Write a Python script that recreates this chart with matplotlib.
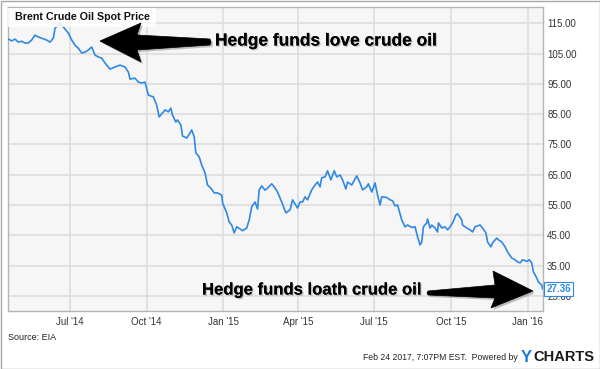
import matplotlib.pyplot as plt
import matplotlib.patheffects as pe
from matplotlib.patches import Polygon, Rectangle
import pandas as pd

# Brent spot price
dates = ['2014-04-18', '2014-04-22', '2014-04-26', '2014-04-30', '2014-05-04', '2014-05-08',
         '2014-05-12', '2014-05-16', '2014-05-20', '2014-05-24', '2014-05-28', '2014-06-03',
         '2014-06-07', '2014-06-11', '2014-06-13', '2014-06-19', '2014-06-23', '2014-06-29',
         '2014-07-03', '2014-07-07', '2014-07-11', '2014-07-15', '2014-07-19', '2014-07-23',
         '2014-07-27', '2014-07-31', '2014-08-04', '2014-08-08', '2014-08-12', '2014-08-18',
         '2014-08-24', '2014-08-30', '2014-09-05', '2014-09-09', '2014-09-11', '2014-09-17',
         '2014-09-21', '2014-09-25', '2014-09-29', '2014-10-03', '2014-10-09', '2014-10-13',
         '2014-10-16', '2014-10-19', '2014-10-23', '2014-10-27', '2014-10-30', '2014-11-01',
         '2014-11-05', '2014-11-07', '2014-11-11', '2014-11-13', '2014-11-18', '2014-11-22',
         '2014-11-24', '2014-11-27', '2014-11-29', '2014-12-03', '2014-12-06', '2014-12-10',
         '2014-12-13', '2014-12-17', '2014-12-21', '2014-12-25', '2014-12-30', '2014-12-31',
         '2015-01-05', '2015-01-08', '2015-01-11', '2015-01-14', '2015-01-17', '2015-01-21',
         '2015-01-24', '2015-01-29', '2015-02-01', '2015-02-04', '2015-02-08', '2015-02-11',
         '2015-02-13', '2015-02-16', '2015-02-20', '2015-02-23', '2015-02-28', '2015-03-04',
         '2015-03-07', '2015-03-12', '2015-03-17', '2015-03-22', '2015-03-25', '2015-03-31',
         '2015-04-03', '2015-04-06', '2015-04-09', '2015-04-12', '2015-04-17', '2015-04-21',
         '2015-04-24', '2015-04-27', '2015-04-29', '2015-05-03', '2015-05-06', '2015-05-10',
         '2015-05-14', '2015-05-17', '2015-05-21', '2015-05-24', '2015-05-28', '2015-05-30',
         '2015-06-04', '2015-06-10', '2015-06-14', '2015-06-17', '2015-06-22', '2015-06-24',
         '2015-06-28', '2015-07-02', '2015-07-05', '2015-07-08', '2015-07-10', '2015-07-16',
         '2015-07-20', '2015-07-23', '2015-07-26', '2015-07-29', '2015-08-03', '2015-08-07',
         '2015-08-10', '2015-08-15', '2015-08-19', '2015-08-22', '2015-08-25', '2015-08-27',
         '2015-08-29', '2015-09-02', '2015-09-03', '2015-09-06', '2015-09-08', '2015-09-12',
         '2015-09-15', '2015-09-16', '2015-09-20', '2015-09-24', '2015-09-27', '2015-09-30',
         '2015-10-03', '2015-10-07', '2015-10-09', '2015-10-14', '2015-10-15', '2015-10-20',
         '2015-10-24', '2015-10-27', '2015-10-30', '2015-11-05', '2015-11-08', '2015-11-12',
         '2015-11-14', '2015-11-18', '2015-11-20', '2015-11-25', '2015-11-27', '2015-12-01',
         '2015-12-05', '2015-12-08', '2015-12-13', '2015-12-17', '2015-12-20', '2015-12-23',
         '2015-12-26', '2015-12-31', '2016-01-03', '2016-01-06', '2016-01-08', '2016-01-12',
         '2016-01-14', '2016-01-18', '2016-01-19']
prices = [109.8, 109.2, 109.8, 108.8, 109.1, 108.5,
          108.5, 109.5, 111.1, 110.5, 110.1, 109.5,
          108.8, 110.1, 113.4, 115.1, 113.8, 111.8,
          109.5, 107.8, 106.8, 105.2, 105.5, 106.2,
          107.2, 104.5, 103.9, 103.5, 101.9, 99.9,
          100.6, 101.2, 100.6, 98.9, 96.6, 96.9,
          95.6, 95.3, 95.6, 91.3, 90.7, 88.0,
          84.1, 85.1, 86.4, 85.8, 87.0, 84.7,
          82.4, 83.1, 81.4, 77.8, 77.1, 78.8,
          79.8, 77.5, 72.2, 70.9, 68.2, 65.6,
          61.6, 60.6, 59.0, 59.0, 58.3, 55.7,
          52.4, 49.4, 48.4, 45.8, 47.8, 47.1,
          46.5, 47.4, 50.1, 54.4, 56.0, 53.7,
          60.0, 61.3, 59.9, 60.6, 62.0, 60.6,
          59.3, 56.0, 52.4, 53.4, 56.7, 54.0,
          56.0, 56.0, 57.7, 56.7, 60.0, 61.6,
          62.6, 61.0, 64.0, 64.3, 66.3, 63.3,
          66.3, 64.3, 64.9, 63.3, 60.3, 62.6,
          61.6, 64.6, 62.3, 60.0, 61.0, 62.0,
          59.3, 62.3, 58.3, 55.0, 57.7, 57.5,
          56.7, 56.4, 54.7, 55.0, 50.1, 47.8,
          48.4, 47.6, 47.8, 44.5, 41.8, 42.8,
          47.8, 49.1, 50.4, 47.4, 48.4, 47.4,
          46.1, 49.1, 47.4, 47.8, 46.8, 47.8,
          49.1, 51.7, 52.1, 50.1, 48.4, 47.4,
          46.8, 46.1, 47.8, 48.4, 47.4, 45.8,
          42.8, 41.2, 42.5, 44.1, 43.5, 42.8,
          41.2, 39.5, 37.5, 36.9, 36.2, 35.9,
          36.9, 36.4, 36.9, 35.9, 32.9, 30.9,
          29.6, 28.6, 27.36]

y_ticks = [25, 35, 45, 55, 65, 75, 85, 95, 105, 115]
x_ticks = ['2014-07-01', '2014-10-01', '2015-01-01', '2015-04-01',
           '2015-07-01', '2015-10-01', '2016-01-01']
x_labels = ["Jul '14", "Oct '14", "Jan '15", "Apr '15", "Jul '15", "Oct '15", "Jan '16"]

blue = '#2f88e3'
W, H = 600, 369

plt.rcParams['font.family'] = ['Liberation Sans', 'DejaVu Sans']

fig = plt.figure(figsize=(W / 100, H / 100), dpi=100)


def px(x, y):
    # pixel position (from top-left) -> figure fraction
    return (x / W, 1 - y / H)


ax = fig.add_axes([7.5 / W, 58 / H, 535.5 / W, 304 / H])
ax.set_facecolor('#f6f6f6')
ax.plot(pd.to_datetime(dates), prices, color=blue, lw=1.2, zorder=3)

ax.set_ylim(20, 120.4)
ax.set_xlim(pd.Timestamp('2014-04-17'), pd.Timestamp('2016-01-19 12:00'))
ax.set_yticks(y_ticks)
ax.set_yticklabels(['%.2f' % v for v in y_ticks])
ax.set_xticks(pd.to_datetime(x_ticks))
ax.set_xticklabels(x_labels)
ax.yaxis.tick_right()
ax.tick_params(axis='y', length=0, pad=3, labelsize=7, labelcolor='#333333')
ax.tick_params(axis='x', length=0, pad=4, labelsize=7, labelcolor='#333333')
ax.grid(True, color='#dddddd', lw=1.2)
ax.set_axisbelow(True)
for s in ax.spines.values():
    s.set_color('#b5b5b5')
    s.set_linewidth(1)

# last value tag (sits over the top of the 25.00 label, as in the original)
ax.text(1.006, prices[-1], '%.2f' % prices[-1], transform=ax.get_yaxis_transform(),
        color=blue, fontsize=7, fontweight='bold', va='center', ha='left', zorder=5,
        bbox=dict(boxstyle='square,pad=0.2', fc='white', ec=blue, lw=0.8))

# title box
fig.add_artist(Rectangle(px(8, 27), 148 / W, 19 / H, transform=fig.transFigure,
                         fc='white', ec='none', alpha=0.85))
fig.text(*px(15, 17.5), 'Brent Crude Oil Spot Price', fontsize=7.7, fontweight='bold',
         va='center', ha='left', color='#111111')

# arrows
shadow = [pe.withSimplePatchShadow(offset=(1.5, -1.5), shadow_rgbFace='#888888', alpha=0.5)]
top_arrow = [(100, 41), (141, 23), (137, 35), (210, 39), (211, 42), (210, 45),
             (137, 50), (141, 62)]
bot_arrow = [(533, 291), (491, 308), (495, 298), (428, 295), (427, 293), (428, 291),
             (495, 285), (493, 271)]
for pts in (top_arrow, bot_arrow):
    fig.add_artist(Polygon([px(x, y) for x, y in pts], closed=True,
                           transform=fig.transFigure, fc='black', ec='black', lw=0.5,
                           path_effects=shadow))

text_shadow = [pe.withSimplePatchShadow(offset=(1, -1), shadow_rgbFace='#999999', alpha=0.5),
               pe.Normal()]
fig.text(*px(215, 41), 'Hedge funds love crude oil', fontsize=12.5, fontweight='bold',
         va='center', ha='left', path_effects=text_shadow)
fig.text(*px(202, 290), 'Hedge funds loath crude oil', fontsize=12, fontweight='bold',
         va='center', ha='left', path_effects=text_shadow)

# footer
fig.text(*px(8, 337), 'Source: EIA', fontsize=6.5, va='center', ha='left', color='#222222')
fig.text(*px(518, 358), 'Feb 24 2017, 7:07PM EST.  Powered by', fontsize=6.2,
         va='center', ha='right', color='#222222')
fig.text(*px(521, 357), 'Y', fontsize=12, fontweight='bold', va='center', ha='left',
         color='#1b7bd6')
fig.text(*px(533, 357), 'CHARTS', fontsize=10.5, fontweight='bold', va='center', ha='left',
         color='#1a1a1a')

# outer frame
fig.add_artist(Rectangle((0.5 / W, 0.5 / H), 1 - 1 / W, 1 - 1 / H, transform=fig.transFigure,
                         fill=False, ec='#a8a8a8', lw=1))

fig.savefig('out.png', dpi=100)
